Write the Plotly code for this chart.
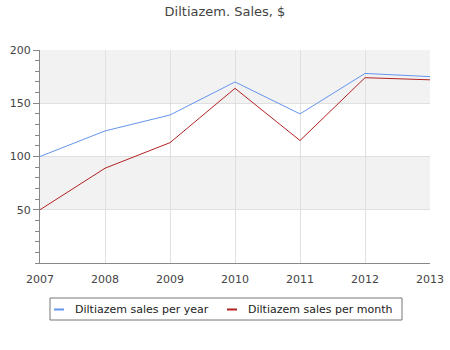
import plotly.graph_objects as go

years = [2007, 2008, 2009, 2010, 2011, 2012, 2013]
sales_per_year = [100, 124, 139, 170, 140, 178, 175]
sales_per_month = [50, 89, 113, 164, 115, 174, 172]
y_ticks = [50, 100, 150, 200]
band_ranges = [(50, 100), (150, 200)]
series_names = ["Diltiazem sales per year", "Diltiazem sales per month"]
series_colors = ["#6495ED", "#B22222"]

fig = go.Figure()
for name, vals, color in zip(series_names, [sales_per_year, sales_per_month], series_colors):
    fig.add_trace(go.Scatter(x=years, y=vals, mode="lines", name=name,
                             line=dict(color=color, width=1), showlegend=False))

# alternating shaded bands behind the plot
for lo, hi in band_ranges:
    fig.add_shape(type="rect", xref="paper", yref="y", x0=0, x1=1, y0=lo, y1=hi,
                  fillcolor="#F2F2F2", line=dict(width=0), layer="below")

# legend drawn as a box with short colour keys (pixel-based layout)
W, H = 450, 350
L, R, T, B = 40, 20, 50, 87
pw, ph = W - L - R, H - T - B


def px(x):
    return (x - L) / pw


def py(y):
    return (H - B - y) / ph


fig.add_shape(type="rect", xref="paper", yref="paper",
              x0=px(50), x1=px(402), y0=py(298), y1=py(320),
              line=dict(color="#777", width=1), fillcolor="white")
key_x = [54, 227]
for kx, name, color in zip(key_x, series_names, series_colors):
    fig.add_shape(type="line", xref="paper", yref="paper",
                  x0=px(kx), x1=px(kx + 10), y0=py(309.5), y1=py(309.5),
                  line=dict(color=color, width=2))
    fig.add_annotation(xref="paper", yref="paper", x=px(kx + 19), y=py(309.5),
                       text=name, showarrow=False, xanchor="left", yanchor="middle",
                       font=dict(family="DejaVu Sans, sans-serif", size=11, color="#222"))

font = "DejaVu Sans, sans-serif"
fig.update_layout(
    width=W, height=H,
    margin=dict(l=L, r=R, t=T, b=B, autoexpand=False),
    paper_bgcolor="white", plot_bgcolor="rgba(0,0,0,0)",
    title=dict(text="Diltiazem. Sales, $", x=0.5, xanchor="center", y=0.968, yanchor="middle",
               font=dict(family=font, size=13, color="#444")),
    font=dict(family=font, size=11, color="#444"),
    showlegend=False,
)
fig.update_xaxes(range=[2007, 2013], tickvals=years, ticktext=[str(y) for y in years],
                 showgrid=True, gridcolor="#E0E0E0", gridwidth=1,
                 showline=True, linecolor="#888", linewidth=1, automargin=False,
                 ticks="", ticklabelstandoff=6, zeroline=False, tickfont=dict(size=11, color="#444"))
fig.update_yaxes(range=[0, 200], tickvals=y_ticks,
                 showgrid=True, gridcolor="#E0E0E0", gridwidth=1,
                 showline=True, linecolor="#888", linewidth=1, automargin=False,
                 ticks="outside", ticklen=6, tickcolor="#888",
                 minor=dict(dtick=10, ticks="outside", ticklen=4, tickcolor="#888", showgrid=False),
                 zeroline=False, tickfont=dict(size=11, color="#444"))

fig.write_html("out.html")
